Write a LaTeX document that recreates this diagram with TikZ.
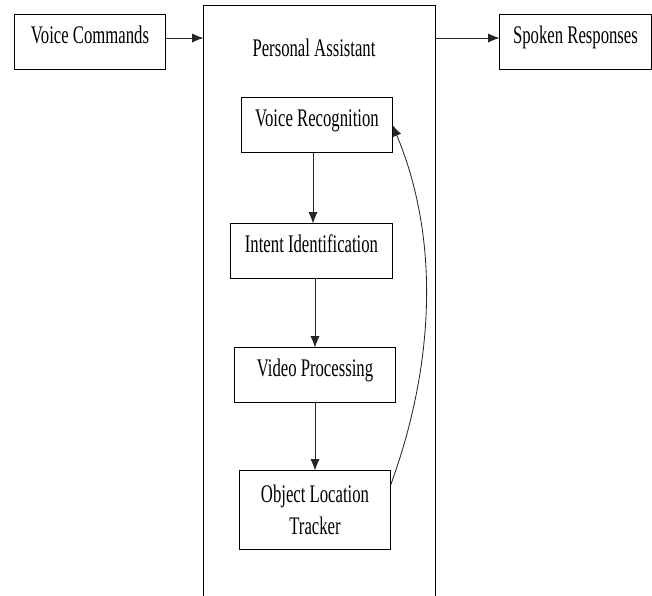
\documentclass[tikz,border=0pt]{standalone}
\usepackage{fontspec}
\setmainfont{Liberation Serif}[FakeStretch=0.66]
\usepackage{tikz}
\usetikzlibrary{arrows.meta}

\begin{document}
\begin{tikzpicture}[x=0.025cm,y=-0.025cm,
    font=\fontsize{18}{21}\selectfont,
    block/.style={draw,line width=0.7pt,inner sep=0pt,minimum height=1.35cm,align=center},
    oneline/.style={text height=0.7em,text depth=0.44em},
    flow/.style={draw=black!85,line width=0.6pt,-{Latex[length=8pt,width=6.5pt]}}]
    \useasboundingbox (0,0) rectangle (652,596);
    \clip (0,0) rectangle (652,596);

    % outer container, open at the bottom
    \node[draw,line width=0.7pt,minimum width=5.775cm,minimum height=15.85cm] (pa) at (319.5,323) {};
    \node (title) at (314,48) {Personal Assistant};

    % inputs and outputs
    \node[block,oneline,minimum width=3.75cm] (vc) at (90,42) {Voice Commands};
    \node[block,oneline,minimum width=3.775cm] (sr) at (575.5,42) {Spoken Responses};

    % pipeline
    \node[block,oneline,minimum width=3.75cm] (vr) at (317,125) {Voice Recognition};
    \node[block,oneline,minimum width=4.025cm] (ii) at (311.5,251) {Intent Identification};
    \node[block,oneline,minimum width=4cm] (vp) at (315,375) {Video Processing};
    \node[block,minimum width=3.75cm,minimum height=1.95cm] (olt) at (315,510) {Object Location\\[2pt]Tracker};

    \draw[flow] (vc.east |- 0,38) -- (pa.west |- 0,38);
    \draw[flow] (pa.east |- 0,38) -- (sr.west |- 0,38);

    \draw[flow] (vr.south -| 313,0) -- (ii.north -| 313,0);
    \draw[flow] (ii.south -| 315,0) -- (vp.north -| 315,0);
    \draw[flow] (vp.south) -- (olt.north);

    % feedback loop
    \draw[flow] (olt.18) .. controls +(46,-126) and +(46,110) .. (vr.east);
\end{tikzpicture}
\end{document}
